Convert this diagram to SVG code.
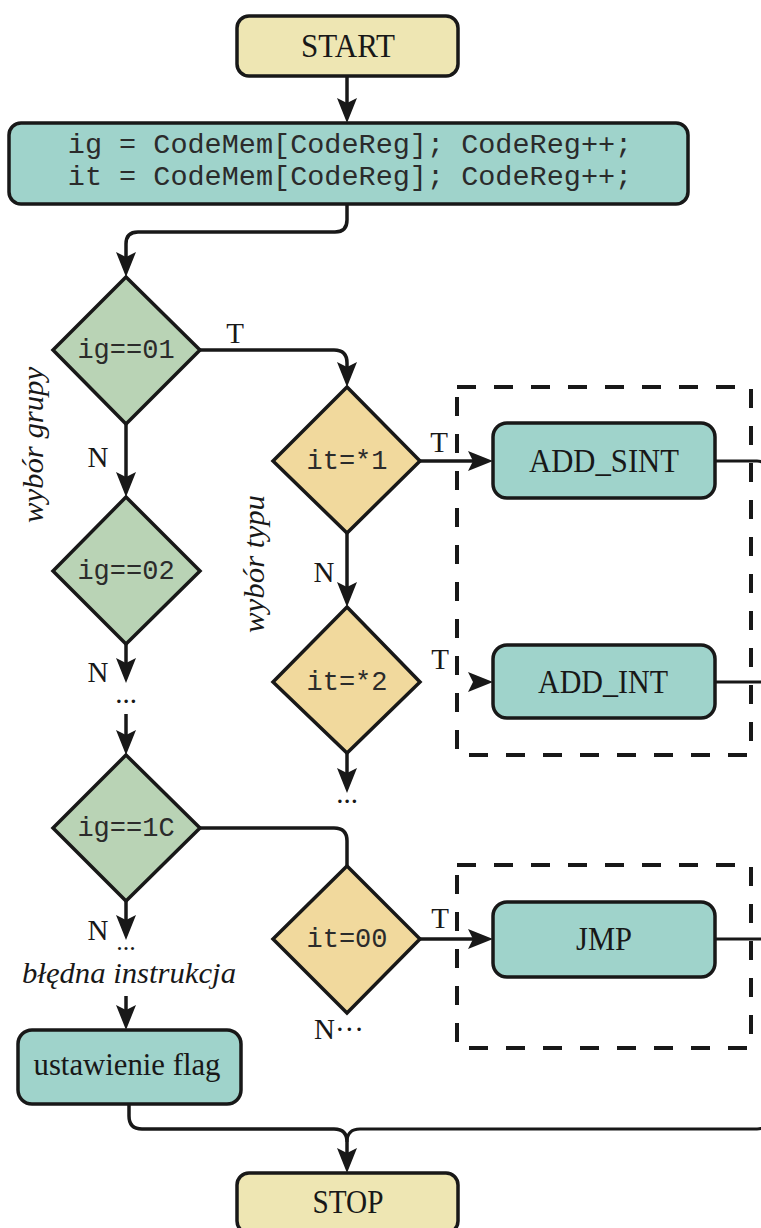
<svg xmlns="http://www.w3.org/2000/svg" width="761" height="1228" viewBox="0 0 761 1228">
  <style>
    .term { fill: #EEE6B3; stroke: #181818; stroke-width: 3.5; }
    .proc { fill: #9FD3CB; stroke: #181818; stroke-width: 3.5; }
    .dg { fill: #B9D3B5; stroke: #181818; stroke-width: 3.5; stroke-linejoin: miter; }
    .dt { fill: #F1D99D; stroke: #181818; stroke-width: 3.5; stroke-linejoin: miter; }
    .serif { font-family: "Liberation Serif", "Times New Roman", serif; fill: #181818; }
    .mono { font-family: "Liberation Mono", "Courier New", monospace; fill: #2b2b2b; }
    .it { font-style: italic; }
    .conn { fill: none; stroke: #181818; stroke-width: 3.5; }
    .ret { fill: none; stroke: #181818; stroke-width: 3; }
    .dash { fill: none; stroke: #181818; stroke-width: 4; stroke-dasharray: 19 18; }
  </style>
  <defs>
    <marker id="arr" markerUnits="userSpaceOnUse" markerWidth="26" markerHeight="22" viewBox="0 0 26 22" refX="16" refY="11" orient="auto">
      <path d="M1,1 L26,11 L1,21 L6,11 Z" fill="#181818"/>
    </marker>
  </defs>

  <!-- dashed groupings of instruction handlers -->
  <g id="group-add">
    <rect class="dash" x="457" y="387" width="294" height="368"/>
  </g>
  <g id="group-jmp">
    <rect class="dash" x="457" y="865" width="294" height="183"/>
  </g>

  <!-- connectors -->
  <g id="connectors">
    <path class="conn" d="M347,76 V113" marker-end="url(#arr)"/>
    <path class="conn" d="M347,204 V220 Q347,232 335,232 H138 Q126,232 126,244 V267" marker-end="url(#arr)"/>
    <path class="conn" d="M200,350 H334 Q347,350 347,363 V377" marker-end="url(#arr)"/>
    <path class="conn" d="M126,424 V487" marker-end="url(#arr)"/>
    <path class="conn" d="M347,533 V597" marker-end="url(#arr)"/>
    <path class="conn" d="M420,461 H483" marker-end="url(#arr)"/>
    <path class="conn" d="M474,682 H483" marker-end="url(#arr)"/>
    <path class="conn" d="M126,644 V673" marker-end="url(#arr)"/>
    <path class="conn" d="M126,714 V745" marker-end="url(#arr)"/>
    <path class="conn" d="M347,753 V783" marker-end="url(#arr)"/>
    <path class="conn" d="M200,828 H334 Q347,828 347,841 V866"/>
    <path class="conn" d="M126,901 V930" marker-end="url(#arr)"/>
    <path class="conn" d="M126,996 V1020" marker-end="url(#arr)"/>
    <path class="conn" d="M420,939 H483" marker-end="url(#arr)"/>
    <!-- handler exits run down the right margin, just past the edge -->
    <path class="ret" d="M715,461 H757 Q766,461 766,470 V1120 Q766,1129 757,1129 H360 Q347,1129 347,1142"/>
    <path class="ret" d="M715,682 H766"/>
    <path class="ret" d="M715,939 H766"/>
    <path class="conn" d="M129,1104 V1116 Q129,1129 142,1129 H334 Q347,1129 347,1142 V1163" marker-end="url(#arr)"/>
  </g>

  <!-- connector labels -->
  <g id="labels" class="serif" font-size="29" text-anchor="middle">
    <text x="235" y="343">T</text>
    <text x="98" y="467">N</text>
    <text x="439" y="452">T</text>
    <text x="324" y="582">N</text>
    <text x="440" y="669">T</text>
    <text x="98" y="682">N</text>
    <text x="126" y="703">...</text>
    <text x="347" y="803">...</text>
    <text x="98" y="940">N</text>
    <text x="126" y="950" font-size="26">...</text>
    <text x="440" y="928">T</text>
    <text x="314" y="1039" text-anchor="start">N···</text>
    <text class="it" x="129" y="983" font-size="29" textLength="214" lengthAdjust="spacingAndGlyphs">błędna instrukcja</text>
    <text class="it" transform="translate(43,445) rotate(-90)" font-size="30" textLength="156" lengthAdjust="spacingAndGlyphs">wybór grupy</text>
    <text class="it" transform="translate(264,564) rotate(-90)" font-size="30" textLength="138" lengthAdjust="spacingAndGlyphs">wybór typu</text>
  </g>

  <g id="start">
    <rect class="term" x="237" y="16" width="221" height="60" rx="12"/>
    <text class="serif" x="348" y="57" font-size="33" text-anchor="middle" textLength="94" lengthAdjust="spacingAndGlyphs">START</text>
  </g>

  <g id="fetch">
    <rect class="proc" x="9" y="123" width="679" height="81" rx="12"/>
    <text class="mono" x="350" y="153" font-size="28.5" text-anchor="middle" xml:space="preserve">ig = CodeMem[CodeReg]; CodeReg++;</text>
    <text class="mono" x="350" y="185" font-size="28.5" text-anchor="middle" xml:space="preserve">it = CodeMem[CodeReg]; CodeReg++;</text>
  </g>

  <g id="ig01">
    <polygon class="dg" points="126,277 200,350 126,424 53,350"/>
    <text class="mono" x="126" y="358" font-size="27" text-anchor="middle">ig==01</text>
  </g>
  <g id="ig02">
    <polygon class="dg" points="126,497 200,571 126,644 53,571"/>
    <text class="mono" x="126" y="579" font-size="27" text-anchor="middle">ig==02</text>
  </g>
  <g id="ig1C">
    <polygon class="dg" points="126,755 200,828 126,901 53,828"/>
    <text class="mono" x="126" y="836" font-size="27" text-anchor="middle">ig==1C</text>
  </g>

  <g id="it1">
    <polygon class="dt" points="347,387 420,461 347,533 273,461"/>
    <text class="mono" x="347" y="469" font-size="27" text-anchor="middle">it=*1</text>
  </g>
  <g id="it2">
    <polygon class="dt" points="347,607 420,682 347,753 273,682"/>
    <text class="mono" x="347" y="690" font-size="27" text-anchor="middle">it=*2</text>
  </g>
  <g id="it00">
    <polygon class="dt" points="347,866 420,939 347,1013 273,939"/>
    <text class="mono" x="347" y="947" font-size="27" text-anchor="middle">it=00</text>
  </g>

  <g id="add_sint">
    <rect class="proc" x="493" y="423" width="222" height="75" rx="14"/>
    <text class="serif" x="604" y="472" font-size="33" text-anchor="middle" textLength="150" lengthAdjust="spacingAndGlyphs">ADD_SINT</text>
  </g>
  <g id="add_int">
    <rect class="proc" x="493" y="645" width="222" height="73" rx="14"/>
    <text class="serif" x="603" y="693" font-size="33" text-anchor="middle" textLength="130" lengthAdjust="spacingAndGlyphs">ADD_INT</text>
  </g>
  <g id="jmp">
    <rect class="proc" x="493" y="902" width="222" height="75" rx="14"/>
    <text class="serif" x="604" y="950" font-size="33" text-anchor="middle" textLength="56" lengthAdjust="spacingAndGlyphs">JMP</text>
  </g>

  <g id="flags">
    <rect class="proc" x="18" y="1030" width="223" height="74" rx="14"/>
    <text class="serif" x="127" y="1075" font-size="31" text-anchor="middle" textLength="187" lengthAdjust="spacingAndGlyphs">ustawienie flag</text>
  </g>

  <g id="stop">
    <rect class="term" x="237" y="1173" width="221" height="60" rx="12"/>
    <text class="serif" x="348" y="1213" font-size="33" text-anchor="middle" textLength="71" lengthAdjust="spacingAndGlyphs">STOP</text>
  </g>
</svg>
